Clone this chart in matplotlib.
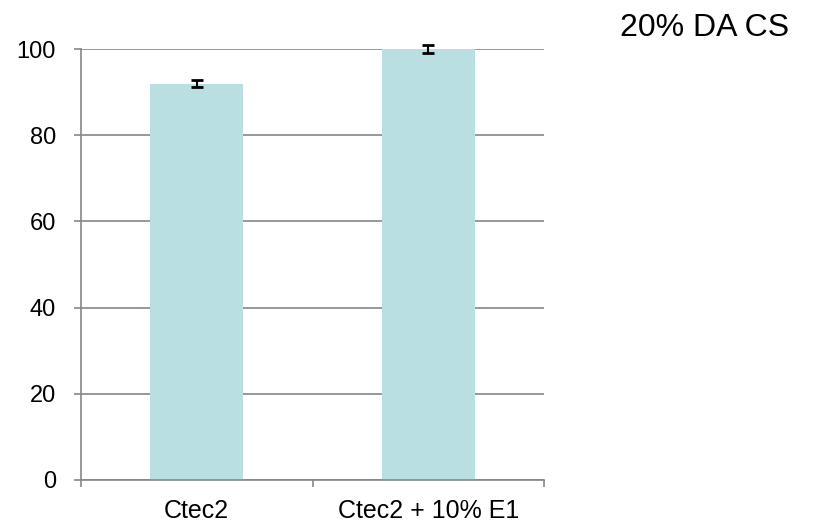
import matplotlib
matplotlib.use("Agg")
import matplotlib.pyplot as plt
import numpy as np

categories = ["Ctec2", "Ctec2 + 10% E1"]
values = [91.9, 100.0]
errors = [0.8, 0.9]
yticks = [0, 20, 40, 60, 80, 100]
title = "20% DA CS"

plt.rcParams['font.family'] = ['Liberation Sans', 'DejaVu Sans']

fig = plt.figure(figsize=(8.35, 5.26), dpi=100)
W, H = 835, 526
ax = fig.add_axes([81 / W, 1 - 480 / H, (544 - 81) / W, (480 - 49) / H])

x = np.arange(len(categories))
ax.bar(x, values, width=0.4, color="#B9DFE2", zorder=2)
eb = ax.errorbar(x, values, yerr=errors, fmt="none", ecolor="black", elinewidth=1.5,
                 capsize=4.3, capthick=2, zorder=3)
for artist in eb.lines[1] + eb.lines[2]:
    artist.set_clip_on(False)

ax.set_xlim(-0.5, len(categories) - 0.5)
ax.set_ylim(0, 100)
ax.set_yticks(yticks)
ax.set_yticklabels([str(v) for v in yticks], fontsize=17)
ax.yaxis.grid(True, color="#868686", linewidth=1.2, zorder=1)
ax.set_axisbelow(True)

ax.set_xticks(x)
ax.set_xticklabels(categories, fontsize=18)
ax.tick_params(axis="x", length=0, pad=14)
ax.set_xticks(np.arange(-0.5, len(categories)), minor=True)
ax.tick_params(axis="x", which="minor", length=5, color="#868686", width=1.2, direction="out")
ax.tick_params(axis="y", length=5, color="#868686", width=1.2, direction="out", pad=13)

for s in ["top", "right"]:
    ax.spines[s].set_visible(False)
for s in ["left", "bottom"]:
    ax.spines[s].set_color("#868686")
    ax.spines[s].set_linewidth(1.2)

fig.text(705 / W, 1 - 28 / H, title, fontsize=23, ha="center", va="center")

fig.savefig("out.png", dpi=100)
